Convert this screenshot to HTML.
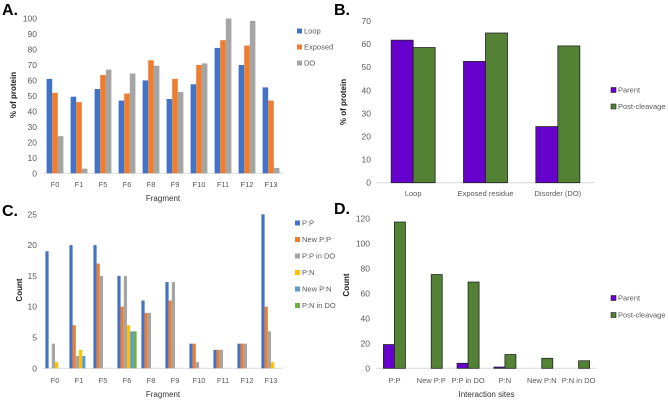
<!DOCTYPE html>
<html><head><meta charset="utf-8"><style>
body{margin:0;background:#fff;}
svg{display:block;font-family:"Liberation Sans",sans-serif;}
</style></head><body>
<svg id="s" width="668" height="402" viewBox="0 0 668 402">
<text x="2" y="15" font-size="16" font-weight="bold">A.</text>
<text x="334" y="15" font-size="16" font-weight="bold">B.</text>
<text x="2" y="216" font-size="16" font-weight="bold">C.</text>
<text x="334" y="214" font-size="16" font-weight="bold">D.</text>
</svg>
<script>
const fragments=["F0","F1","F5","F6","F8","F9","F10","F11","F12","F13"];
const aLoop=[61,49.5,54.5,47,60,48,57.5,81,70,55.5];
const aExposed=[52,46,63.5,51.5,73,61,70,86,82.5,47];
const aDO=[24,3,67,64.5,69.5,52.5,71,100,98.5,3.5];
const aTicks=[0,10,20,30,40,50,60,70,80,90,100];
const bCats=["Loop","Exposed residue","Disorder (DO)"];
const bParent=[61.7,52.5,24.3];
const bPost=[58.5,64.8,59.2];
const bTicks=[0,10,20,30,40,50,60,70];
const cPP=[19,20,20,15,11,14,4,3,4,25];
const cNewPP=[0,7,17,10,9,11,4,3,4,10];
const cPPDO=[4,2,15,15,9,14,1,3,4,6];
const cPN=[1,3,0,7,0,0,0,0,0,1];
const cNewPN=[0,2,0,6,0,0,0,0,0,0];
const cPNDO=[0,0,0,6,0,0,0,0,0,0];
const cTicks=[0,5,10,15,20,25];
const dCats=["P:P","New P:P","P:P in DO","P:N","New P:N","P:N in DO"];
const dParent=[19,0,4,1,0,0];
const dPost=[117,75,69,11,8,6];
const dTicks=[0,20,40,60,80,100,120];

const svg=document.getElementById('s');
const NS="http://www.w3.org/2000/svg";
function mk(tag,attrs,text){const e=document.createElementNS(NS,tag);for(const k in attrs)e.setAttribute(k,attrs[k]);if(text!==undefined)e.textContent=text;svg.appendChild(e);return e;}

function chart(p){
  const y=v=>p.y0-(v/p.max)*(p.y0-p.yTop);
  const gw=(p.x1-p.x0)/p.cats.length;
  const ax=mk('line',{x1:p.x0,x2:p.x1,y1:p.y0,y2:p.y0,stroke:'#d9d9d9','stroke-width':1});
  
  
  p.ticks.forEach(t=>{
    const e=mk('text',{x:p.x0-6,y:y(t)+3,'font-size':8.5,fill:'#595959','text-anchor':'end'},t);
    
    
  });
  p.cats.forEach((c,i)=>{
    const e=mk('text',{x:p.x0+gw*(i+0.5),y:p.labelY,'font-size':7.5,fill:'#595959','text-anchor':'middle'},c);
    
    
  });
  const n=p.series.length;
  p.series.forEach((s,j)=>{
    s.data.forEach((v,i)=>{
      const x=p.x0+gw*(i+0.5)-n*p.bw/2+j*p.bw;
      const r=mk('rect',{x:x,y:y(v),width:p.bw,height:Math.max(0,p.y0-y(v)),fill:s.color});
      if(p.stroke&&v>0){r.setAttribute('stroke','#222');r.setAttribute('stroke-width','0.8');}
      
      
    });
    const ly=p.legY+j*p.legGap;
    const sw=mk('rect',{x:p.legX,y:ly-3.5,width:5,height:5,fill:s.color});
    if(p.stroke){sw.setAttribute('stroke','#222');sw.setAttribute('stroke-width','0.6');}
    
    
    const lt=mk('text',{x:p.legX+7,y:ly+1.5,'font-size':7.5,fill:'#595959'},s.name);
    
    
  });
  const yl=mk('text',{x:p.ylX,y:p.ylY,'font-size':8,'font-weight':'bold',fill:'#222','text-anchor':'middle',transform:`rotate(-90 ${p.ylX} ${p.ylY})`},p.ylabel);
  
  
  const xl=mk('text',{x:(p.x0+p.x1)/2,y:p.xlY,'font-size':8,fill:'#333','text-anchor':'middle'},p.xlabel);
  
  
}
chart({id:'a',cats:fragments,x0:43,x1:283,y0:173.3,yTop:18.5,max:100,ticks:aTicks,bw:5.6,labelY:187,
  series:[{name:'Loop',data:aLoop,color:'#4472C4'},{name:'Exposed',data:aExposed,color:'#ED7D31'},{name:'DO',data:aDO,color:'#A5A5A5'}],
  legX:297,legY:32,legGap:16,ylabel:'% of protein',ylX:16,ylY:95,xlabel:'Fragment',xlY:201});
chart({id:'b',cats:bCats,x0:377,x1:594,y0:182.7,yTop:21,max:70,ticks:bTicks,bw:22,labelY:196,stroke:true,
  series:[{name:'Parent',data:bParent,color:'#6600CC'},{name:'Post-cleavage',data:bPost,color:'#548235'}],
  legX:611,legY:91,legGap:16.5,ylabel:'% of protein',ylX:346,ylY:102,xlabel:'',xlY:0});
chart({id:'c',cats:fragments,x0:43,x1:283,y0:368.3,yTop:214.3,max:25,ticks:cTicks,bw:3.2,labelY:383,
  series:[{name:'P:P',data:cPP,color:'#4472C4'},{name:'New P:P',data:cNewPP,color:'#ED7D31'},{name:'P:P in DO',data:cPPDO,color:'#A5A5A5'},
          {name:'P:N',data:cPN,color:'#FFC000'},{name:'New P:N',data:cNewPN,color:'#5B9BD5'},{name:'P:N in DO',data:cPNDO,color:'#70AD47'}],
  legX:295,legY:224,legGap:16.5,ylabel:'Count',ylX:22,ylY:290,xlabel:'Fragment',xlY:397});
chart({id:'d',cats:dCats,x0:376,x1:597,y0:368.3,yTop:218.3,max:120,ticks:dTicks,bw:11,labelY:383,stroke:true,
  series:[{name:'Parent',data:dParent,color:'#6600CC'},{name:'Post-cleavage',data:dPost,color:'#548235'}],
  legX:611,legY:299,legGap:17,ylabel:'Count',ylX:349,ylY:285,xlabel:'Interaction sites',xlY:397});
</script>
</body></html>
